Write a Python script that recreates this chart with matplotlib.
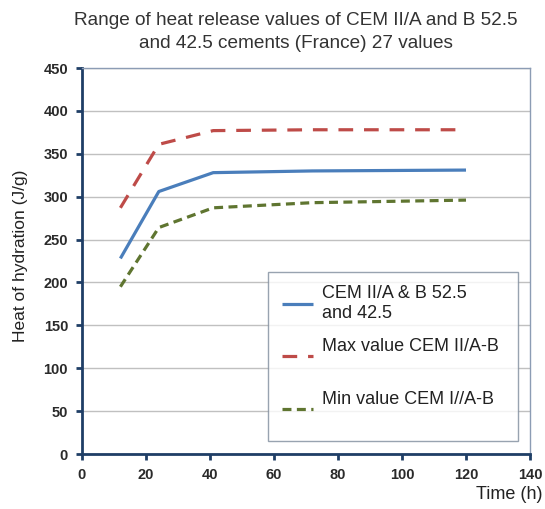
import matplotlib
matplotlib.use("Agg")
import matplotlib.pyplot as plt

time_h = [12, 24, 41, 72, 120]
mean_vals = [228, 306, 328, 330, 331]
max_vals = [287, 361, 377, 378, 378]
min_vals = [195, 264, 287, 293, 296]

labels = ["CEM II/A & B 52.5\nand 42.5", "Max value CEM II/A-B\n ", "Min value CEM I//A-B\n "]
title = "Range of heat release values of CEM II/A and B 52.5\nand 42.5 cements (France) 27 values"
x_ticks = [0, 20, 40, 60, 80, 100, 120, 140]
y_ticks = [0, 50, 100, 150, 200, 250, 300, 350, 400, 450]

plt.rcParams['font.family'] = ['Liberation Sans', 'DejaVu Sans']

fig = plt.figure(figsize=(5.45, 5.09), dpi=100)
ax = fig.add_axes([82/545, 55/509, 448/545, 386/509])

ax.plot(time_h, mean_vals, color='#4a7ebb', lw=2.3, label=labels[0], solid_capstyle='butt')
ax.plot(time_h, max_vals, color='#be4b48', lw=2.3, dashes=(4.6, 3.4), label=labels[1])
ax.plot(time_h, min_vals, color='#5f7530', lw=2.3, dashes=(2.8, 1.7), label=labels[2])

ax.set_xlim(0, 140)
ax.set_ylim(0, 450)
ax.set_xticks(x_ticks)
ax.set_yticks(y_ticks)
ax.yaxis.grid(True, color='#c0c0c0', lw=1)
ax.set_axisbelow(True)

for s in ['left', 'bottom']:
    ax.spines[s].set_color('#1f3e66')
    ax.spines[s].set_linewidth(2)
for s in ['top', 'right']:
    ax.spines[s].set_color('#8c9cb4')
    ax.spines[s].set_linewidth(1)

ax.tick_params(axis='both', direction='out', length=4, width=2, color='#1f3e66',
               labelsize=10.5, labelcolor='#2a2a2a', pad=6)
for lab in ax.get_xticklabels() + ax.get_yticklabels():
    lab.set_fontweight('bold')

fig.text(0.543, 0.977, title, ha='center', va='top', fontsize=13.7, color='#333333', linespacing=1.45)
fig.text(0.038, 0.497, "Heat of hydration (J/g)", rotation=90, ha='center', va='center',
         fontsize=12.5, color='#222222')
fig.text(0.995, 0.028, "Time (h)", ha='right', va='center', fontsize=13, color='#222222')

x0 = (268 - 82) / 448
w = 250 / 448
y0 = (454 - 441) / 386
h = (441 - 271) / 386
leg = ax.legend(loc='lower left', bbox_to_anchor=(x0, y0, w, h), mode='expand',
                borderaxespad=0, fontsize=13,
                frameon=True, fancybox=False, handlelength=1.72, labelspacing=0.9,
                borderpad=0.75, handletextpad=0.5)
leg.get_frame().set_edgecolor('#7f8c9c')
leg.get_frame().set_linewidth(1)
for t in leg.get_texts():
    t.set_color('#222222')

fig.savefig("out.png", dpi=100)
